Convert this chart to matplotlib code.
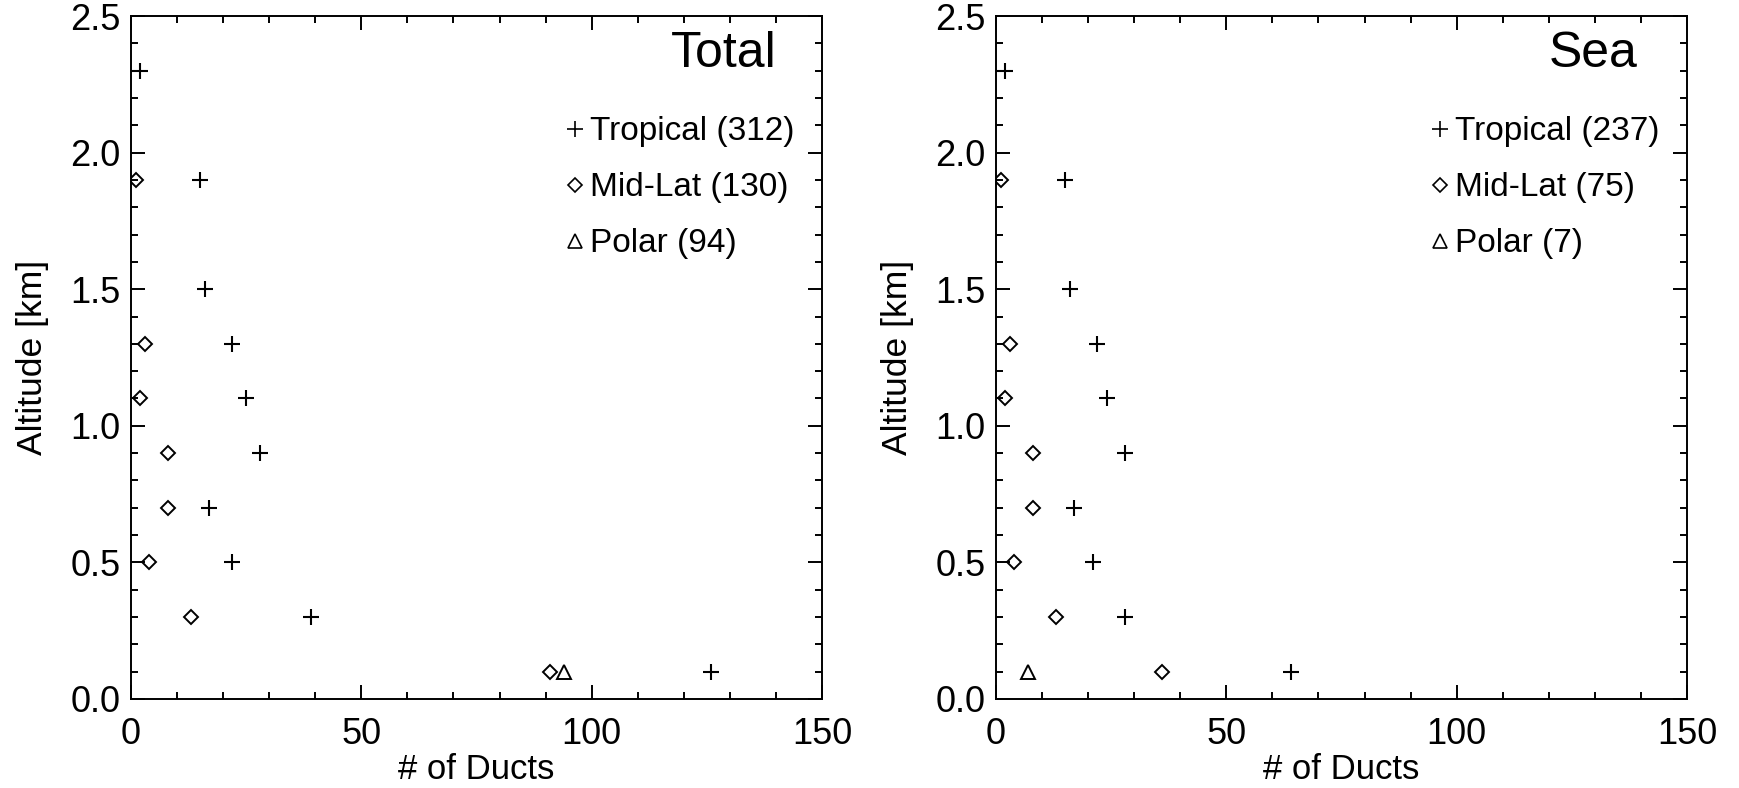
import matplotlib
matplotlib.use("Agg")
import matplotlib.pyplot as plt
from matplotlib.lines import Line2D
from matplotlib.ticker import MultipleLocator, FormatStrFormatter

plt.rcParams['font.family'] = ['Liberation Sans', 'DejaVu Sans']

# altitude bins (km)
alt = [0.1, 0.3, 0.5, 0.7, 0.9, 1.1, 1.3, 1.5, 1.9, 2.3]

# Total: number of ducts per altitude bin
total_trop = [126, 39, 22, 17, 28, 25, 22, 16, 15, 2]
total_mid_alt = [0.1, 0.3, 0.5, 0.7, 0.9, 1.1, 1.3, 1.9]
total_mid = [91, 13, 4, 8, 8, 2, 3, 1]
total_pol_alt = [0.1]
total_pol = [94]

# Sea
sea_trop = [64, 28, 21, 17, 28, 24, 22, 16, 15, 2]
sea_mid_alt = [0.1, 0.3, 0.5, 0.7, 0.9, 1.1, 1.3, 1.9]
sea_mid = [36, 13, 4, 8, 8, 2, 3, 1]
sea_pol_alt = [0.1]
sea_pol = [7]

panels = [
    ("Total", total_trop, total_mid_alt, total_mid, total_pol_alt, total_pol,
     ["Tropical (312)", "Mid-Lat (130)", "Polar (94)"], 0.934),
    ("Sea", sea_trop, sea_mid_alt, sea_mid, sea_pol_alt, sea_pol,
     ["Tropical (237)", "Mid-Lat (75)", "Polar (7)"], 0.928),
]

fig = plt.figure(figsize=(17.39, 7.88), dpi=100)
lefts = [131 / 1739, 996 / 1739]
w = 691 / 1739
b = 89 / 788
h = 683 / 788

for left, (title, trop, mid_alt, mid, pol_alt, pol, labels, tx) in zip(lefts, panels):
    ax = fig.add_axes([left, b, w, h])
    ax.plot(trop, alt, ls='none', marker='+', ms=11, mew=1.5, color='black')
    ax.plot(mid, mid_alt, ls='none', marker='D', ms=7.5, mew=1.4, mfc='none', color='black')
    ax.plot(pol, pol_alt, ls='none', marker='^', ms=10, mew=1.4, mfc='none', color='black')

    ax.set_xlim(0, 150)
    ax.set_ylim(0, 2.5)
    ax.xaxis.set_major_locator(MultipleLocator(50))
    ax.xaxis.set_minor_locator(MultipleLocator(10))
    ax.yaxis.set_major_locator(MultipleLocator(0.5))
    ax.yaxis.set_minor_locator(MultipleLocator(0.1))
    ax.yaxis.set_major_formatter(FormatStrFormatter('%.1f'))
    ax.tick_params(which='both', direction='in', top=True, right=True, width=1.4)
    ax.tick_params(which='major', length=10, labelsize=26)
    ax.tick_params(axis='x', which='major', pad=13)
    ax.tick_params(axis='y', which='major', pad=7.5)
    ax.tick_params(which='minor', length=5)
    for s in ax.spines.values():
        s.set_linewidth(1.4)

    ax.set_xlabel("# of Ducts", fontsize=25, labelpad=0.5)
    ax.set_ylabel("Altitude [km]", fontsize=25.5, labelpad=15)

    ax.text(tx, 0.925, title, transform=ax.transAxes, ha='right', va='baseline', fontsize=36)

    handles = [
        Line2D([], [], ls='none', marker='+', ms=12, mew=1.2, color='black'),
        Line2D([], [], ls='none', marker='D', ms=7, mew=1.2, mfc='none', color='black'),
        Line2D([], [], ls='none', marker='^', ms=10, mew=1.2, mfc='none', color='black'),
    ]
    ax.legend(handles, labels, loc='upper left', bbox_to_anchor=(0.633, 0.853),
              frameon=False, fontsize=24, handlelength=0.4, handletextpad=0.25,
              labelspacing=0.75, borderpad=0, borderaxespad=0)

fig.savefig("out.png", dpi=100)
